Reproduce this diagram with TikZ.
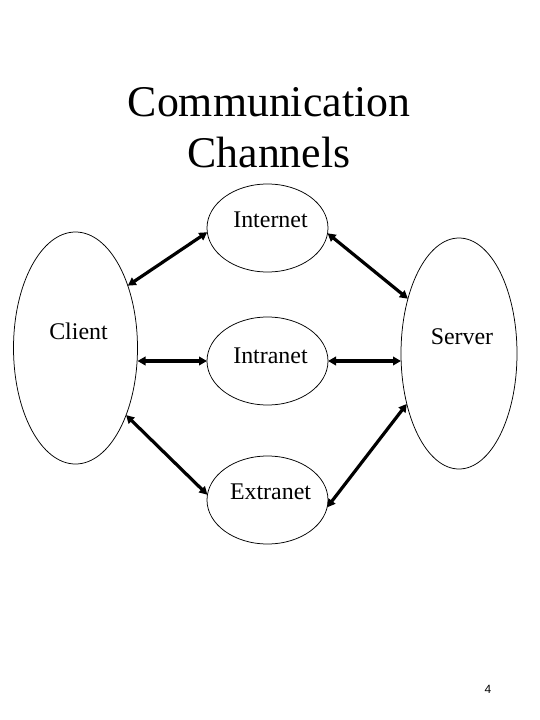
\documentclass[tikz,border=0pt]{standalone}
\usepackage{fontspec}
\setmainfont{Liberation Serif}
\newfontfamily\pagefont{Liberation Sans}
\usetikzlibrary{shapes.geometric,arrows.meta}
\tikzset{
  ell/.style={ellipse, draw, line width=0.75bp, inner sep=0pt, outer sep=0pt},
  lbl/.style={anchor=base, inner sep=0pt, font=\fontsize{24}{28}\selectfont},
  ttl/.style={anchor=base, inner sep=0pt, font=\fontsize{44}{50}\selectfont},
  link/.style={line width=3.2bp, {Triangle[length=8bp,width=8.5bp]}-{Triangle[length=8bp,width=8.5bp]}}
}
\begin{document}
\begin{tikzpicture}[x=1bp,y=-1bp]
\useasboundingbox (0,0) rectangle (540,720);
% title
\node[ttl] (t1) at (269,117) {Communication};
\node[ttl] (t2) at (269,167) {Channels};
% ellipses
\node[ell, minimum width=124bp, minimum height=232bp] (client) at (75.5,348) {};
\node[ell, minimum width=116bp, minimum height=231bp] (server) at (459,353.5) {};
\node[ell, minimum width=121bp, minimum height=88bp] (internet) at (267.5,228) {};
\node[ell, minimum width=121bp, minimum height=88bp] (intranet) at (267.5,361) {};
\node[ell, minimum width=121bp, minimum height=88bp] (extranet) at (267.5,500) {};
% labels
\node[lbl] (lclient) at (78.5,339) {Client};
\node[lbl] (lserver) at (462,344) {Server};
\node[lbl] (linternet) at (270.5,227) {Internet};
\node[lbl] (lintranet) at (270.5,363) {Intranet};
\node[lbl] (lextranet) at (270.5,499) {Extranet};
% connectors
\draw[link] (client.50) -- (internet.184.6);
\draw[link] (internet.355.4) -- (server.133);
\draw[link] (intranet.west -| client.east) -- (intranet.west);
\draw[link] (intranet.east) -- (intranet.east -| server.west);
\draw[link] (client.-53) -- (extranet.175.4);
\draw[link] (extranet.353.4) -- (server.224);
% page number
\node[anchor=base, inner sep=0pt, font=\pagefont\fontsize{12}{14}\selectfont] (pnum) at (488,693) {4};
\end{tikzpicture}
\end{document}
